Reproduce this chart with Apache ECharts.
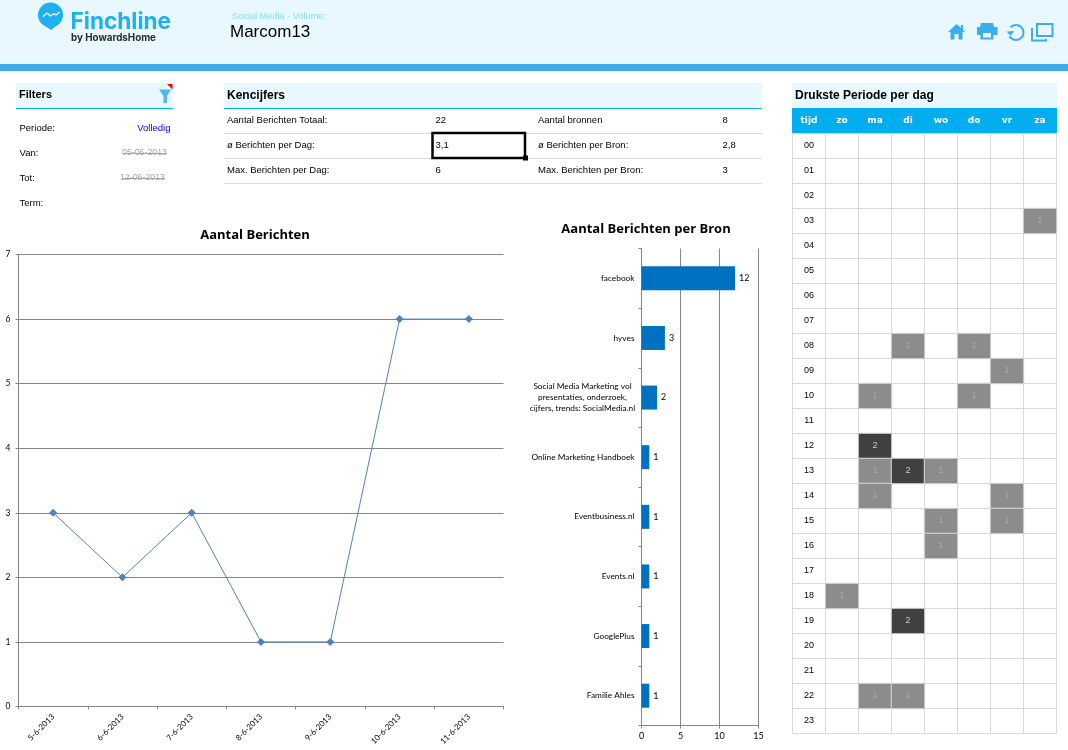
<!DOCTYPE html>
<html>
<head>
<meta charset="utf-8">
<title>Finchline - Marcom13</title>
<style>
  html, body { margin: 0; padding: 0; background: #fff; }
  #chart { width: 1068px; height: 750px; }
</style>
<script src="https://cdn.jsdelivr.net/npm/echarts@6/dist/echarts.min.js"></script>
</head>
<body>
<div id="chart"></div>
<script>
// Daily message volume
const dayLabels = ['5-6-2013', '6-6-2013', '7-6-2013', '8-6-2013', '9-6-2013', '10-6-2013', '11-6-2013'];
const dayCounts = [3, 2, 3, 1, 1, 6, 6];

// Messages per source
const sourceLabels = [
  'facebook',
  'hyves',
  'Social Media Marketing vol\npresentaties, onderzoek,\ncijfers, trends: SocialMedia.nl',
  'Online Marketing Handboek',
  'Eventbusiness.nl',
  'Events.nl',
  'GooglePlus',
  'Familie Ahles'
];
const sourceCounts = [12, 3, 2, 1, 1, 1, 1, 1];

// Busiest period: weekday / hour grid
const weekColumns = ['tijd', 'zo', 'ma', 'di', 'wo', 'do', 'vr', 'za'];
const hourRows = ['00','01','02','03','04','05','06','07','08','09','10','11','12','13','14','15','16','17','18','19','20','21','22','23'];
const busyCells = [
  ['za','03',1], ['di','08',1], ['do','08',1], ['vr','09',1], ['ma','10',1], ['do','10',1],
  ['ma','12',2], ['ma','13',1], ['di','13',2], ['wo','13',1], ['ma','14',1], ['vr','14',1],
  ['wo','15',1], ['vr','15',1], ['wo','16',1], ['zo','18',1], ['di','19',2], ['ma','22',1], ['di','22',1]
];

// Key figures table
const kpiLeft = [
  ['Aantal Berichten Totaal:', '22'],
  ['ø Berichten per Dag:', '3,1'],
  ['Max. Berichten per Dag:', '6']
];
const kpiRight = [
  ['Aantal bronnen', '8'],
  ['ø Berichten per Bron:', '2,8'],
  ['Max. Berichten per Bron:', '3']
];
const filterLabels = ['Periode:', 'Van:', 'Tot:', 'Term:'];

const SANS = '"Liberation Sans", Arial, sans-serif';
const CHART_FONT = 'Lato, "Open Sans", sans-serif';
const BAND = '#e9f7fe';
const CYAN = '#00aeef';
const BAR_BLUE = '#3aaeed';
const LOGO_BLUE = '#1cb1f0';
const GRID_GREY = '#868686';
const CELL_LINE = '#d9d9d9';

function rect(x, y, w, h, fill, z) {
  return { type: 'rect', silent: true, z: z || 0, shape: { x, y, width: w, height: h }, style: { fill } };
}
function hline(x1, x2, y, color, width) {
  return { type: 'line', silent: true, z: 1, shape: { x1, y1: y, x2, y2: y }, style: { stroke: color, lineWidth: width || 1 } };
}
function label(x, y, text, opts) {
  const o = opts || {};
  return {
    type: 'text', silent: true, z: 3, x, y,
    style: {
      text,
      fill: o.color || '#000',
      font: (o.weight || 'normal') + ' ' + (o.size || 9.5) + 'px ' + (o.family || SANS),
      align: o.align || 'left',
      verticalAlign: 'middle'
    }
  };
}
function poly(points, fill) {
  return { type: 'polygon', silent: true, z: 3, shape: { points }, style: { fill } };
}
function stroke(points, color, width) {
  return { type: 'polyline', silent: true, z: 3, shape: { points }, style: { fill: 'none', stroke: color, lineWidth: width } };
}

// Page chrome: header, logo, tool icons, panels and tables
const chrome = [
  rect(0, 0, 1068, 64, BAND),
  rect(0, 64, 1068, 7, BAR_BLUE),

  // logo pin with its small pulse line
  { type: 'circle', silent: true, z: 3, shape: { cx: 50.5, cy: 15, r: 12.5 }, style: { fill: LOGO_BLUE } },
  poly([[42, 23], [59, 23], [53.5, 28], [51, 30], [48, 28]], LOGO_BLUE),
  stroke([[43, 16.5], [47, 13], [50.5, 16], [54, 13.5], [56, 15], [59.5, 12]], '#ffffff', 1.3),
  label(70.5, 22.5, 'Finchline', { size: 22.6, weight: 'bold', color: LOGO_BLUE, family: 'Inter, ' + SANS }),
  label(71, 38, 'by HowardsHome', { size: 9.8, weight: 'bold', color: '#2b2b2b', family: 'Inter, ' + SANS }),

  label(232, 16, 'Social Media - Volume:', { size: 9.2, color: '#7fe3ea' }),
  label(230, 32, 'Marcom13', { size: 17 }),

  // home
  poly([[948, 32], [956.5, 24], [961, 28], [961, 25], [963, 25], [963, 30], [965, 32], [962.5, 32], [962.5, 39.5], [958.5, 39.5], [958.5, 34], [954.5, 34], [954.5, 39.5], [950.5, 39.5], [950.5, 32]], BAR_BLUE),
  // printer
  poly([[981, 23], [993, 23], [994, 27], [997.5, 27], [997.5, 35], [993.5, 35], [993.5, 39.5], [980.5, 39.5], [980.5, 35], [977, 35], [977, 27], [980, 27]], BAR_BLUE),
  rect(983, 33, 8, 4.5, BAND, 4),
  // refresh
  { type: 'arc', silent: true, z: 3, shape: { cx: 1016, cy: 32.5, r: 7.5, startAngle: -2.4, endAngle: 2.6, clockwise: true }, style: { stroke: BAR_BLUE, lineWidth: 2, fill: 'none' } },
  poly([[1006.5, 31.5], [1014, 31], [1010.5, 36]], BAR_BLUE),
  // window
  { type: 'rect', silent: true, z: 3, shape: { x: 1037, y: 24, width: 15.5, height: 12 }, style: { fill: 'none', stroke: BAR_BLUE, lineWidth: 2 } },
  stroke([[1033, 29], [1032, 29], [1032, 40.5], [1046, 40.5], [1046, 39]], BAR_BLUE, 2),

  // Filters panel
  rect(16, 83, 157, 25, BAND),
  hline(16, 173, 108.5, CYAN),
  label(19, 95, 'Filters', { size: 11, weight: 'bold' }),
  poly([[159, 89.5], [171, 89.5], [167, 96], [167, 103], [163.5, 103], [163.5, 96]], '#4fb8ee'),
  poly([[167, 84], [172.5, 84], [172.5, 89.5]], '#f00000'),
  label(19.5, 128, filterLabels[0]),
  label(19.5, 153, filterLabels[1]),
  label(19.5, 178, filterLabels[2]),
  label(19.5, 203, filterLabels[3]),
  label(170.5, 128, 'Volledig', { align: 'right', color: '#0000ee' }),
  label(167, 153, '05-06-2013', { align: 'right', color: '#a6a6a6', size: 8.8 }),
  label(165, 178, '12-06-2013', { align: 'right', color: '#a6a6a6', size: 8.8 }),
  hline(123, 167, 153.5, '#a6a6a6'),
  hline(123, 165, 178.5, '#a6a6a6'),

  // Key figures panel
  rect(224, 83, 538, 25, BAND),
  hline(224, 762, 108.5, CYAN),
  label(227, 96, 'Kencijfers', { size: 12, weight: 'bold' }),
  hline(224, 762, 133.5, CELL_LINE),
  hline(224, 762, 158.5, CELL_LINE),
  hline(224, 762, 183.5, CELL_LINE),
  { type: 'rect', silent: true, z: 2, shape: { x: 432.5, y: 133, width: 92.5, height: 25 }, style: { fill: 'none', stroke: '#000', lineWidth: 2.5 } },
  rect(523, 155.5, 5, 5, '#000', 2),

  // Heat grid panel
  rect(792, 83, 265, 25, BAND),
  rect(792, 108, 265, 25, CYAN),
  label(795, 96, 'Drukste Periode per dag', { size: 12, weight: 'bold' })
];
kpiLeft.forEach((row, i) => {
  chrome.push(label(227, 120.5 + i * 25, row[0]));
  chrome.push(label(435.5, 120.5 + i * 25, row[1]));
});
kpiRight.forEach((row, i) => {
  chrome.push(label(538, 120.5 + i * 25, row[0]));
  chrome.push(label(722.5, 120.5 + i * 25, row[1]));
});

// Cells shade by message count
const cellFill = { 1: '#8c8c8c', 2: '#404040' };
const cellText = { 1: '#aaaaaa', 2: '#c8c8c8' };
const heatData = busyCells.map(([day, hour, n]) => ({
  value: [weekColumns.indexOf(day), hourRows.indexOf(hour), n],
  itemStyle: { color: cellFill[n] },
  label: { color: cellText[n] }
}));

const chart = echarts.init(document.getElementById('chart'), null, { renderer: 'canvas' });
chart.setOption({
  animation: false,
  backgroundColor: '#fff',
  textStyle: { fontFamily: CHART_FONT },
  title: [
    { text: 'Aantal Berichten', left: 255, top: 229, textAlign: 'center', padding: 0,
      textStyle: { fontFamily: '"Open Sans", ' + SANS, fontWeight: 'bold', fontSize: 13, color: '#000' } },
    { text: 'Aantal Berichten per Bron', left: 646, top: 223, textAlign: 'center', padding: 0,
      textStyle: { fontFamily: '"Open Sans", ' + SANS, fontWeight: 'bold', fontSize: 13, color: '#000' } }
  ],
  graphic: { elements: chrome },
  grid: [
    { left: 18.5, top: 254.5, width: 485, height: 452, containLabel: false },
    { left: 641.5, top: 248.5, width: 117, height: 477, containLabel: false },
    { left: 792.5, top: 133.5, width: 264, height: 600, containLabel: false }
  ],
  xAxis: [
    {
      gridIndex: 0, type: 'category', data: dayLabels, boundaryGap: true,
      axisLine: { lineStyle: { color: GRID_GREY, width: 1 } },
      axisTick: { show: true, length: 3, lineStyle: { color: GRID_GREY }, interval: 0 },
      axisLabel: { interval: 0, rotate: 45, fontSize: 8, color: '#000', margin: 9, fontFamily: CHART_FONT },
      splitLine: { show: false }
    },
    {
      gridIndex: 1, type: 'value', min: 0, max: 15, interval: 5,
      axisLine: { show: true, lineStyle: { color: GRID_GREY, width: 1 } },
      axisTick: { show: true, length: 3, lineStyle: { color: GRID_GREY } },
      axisLabel: { fontSize: 9, color: '#000', margin: 6, fontFamily: CHART_FONT, hideOverlap: false, showMinLabel: true, showMaxLabel: true },
      splitLine: { show: true, lineStyle: { color: GRID_GREY, width: 1 } }
    },
    {
      gridIndex: 2, type: 'category', data: weekColumns, position: 'top', boundaryGap: true,
      axisLine: { show: false }, axisTick: { show: false },
      axisLabel: { interval: 0, fontSize: 9, fontWeight: 'bold', color: '#fff', margin: 8, fontFamily: '"DejaVu Sans", sans-serif' },
      splitLine: { show: true, interval: 0, lineStyle: { color: CELL_LINE, width: 1 } }
    }
  ],
  yAxis: [
    {
      gridIndex: 0, type: 'value', min: 0, max: 7, interval: 1,
      axisLine: { show: true, lineStyle: { color: GRID_GREY, width: 1 } },
      axisTick: { show: true, length: 3, lineStyle: { color: GRID_GREY } },
      axisLabel: { fontSize: 8.5, color: '#000', margin: 8, fontFamily: CHART_FONT },
      splitLine: { show: true, lineStyle: { color: GRID_GREY, width: 1 } }
    },
    {
      gridIndex: 1, type: 'category', data: sourceLabels, inverse: true, boundaryGap: true,
      axisLine: { show: true, lineStyle: { color: GRID_GREY, width: 1 } },
      axisTick: { show: true, length: 3, interval: 0, lineStyle: { color: GRID_GREY } },
      axisLabel: {
        interval: 0, fontSize: 8.3, color: '#000', margin: 7, fontFamily: CHART_FONT, lineHeight: 11,
        formatter: v => v.indexOf('\n') < 0 ? v : v.split('\n').map(line => '{c|' + line + '}').join('\n'),
        rich: { c: { width: 104, align: 'center', fontSize: 8.3, lineHeight: 11, fontFamily: CHART_FONT, color: '#000' } }
      },
      splitLine: { show: false }
    },
    {
      gridIndex: 2, type: 'category', data: hourRows, inverse: true, boundaryGap: true,
      axisLine: { show: false }, axisTick: { show: false },
      axisLabel: { interval: 0, inside: true, align: 'center', margin: 16.5, fontSize: 9, color: '#000', fontFamily: SANS },
      splitLine: { show: true, interval: 0, lineStyle: { color: CELL_LINE, width: 1 } }
    }
  ],
  series: [
    {
      name: 'Aantal Berichten', type: 'line', xAxisIndex: 0, yAxisIndex: 0, data: dayCounts,
      symbol: 'diamond', symbolSize: 8, showSymbol: true,
      lineStyle: { color: '#4f81bd', width: 1 },
      itemStyle: { color: '#4f81bd' },
      z: 5
    },
    {
      name: 'Aantal Berichten per Bron', type: 'bar', xAxisIndex: 1, yAxisIndex: 1, data: sourceCounts,
      barWidth: 24, itemStyle: { color: '#0070c0' },
      label: { show: true, position: 'right', distance: 4, fontSize: 9, color: '#000', fontFamily: CHART_FONT },
      z: 5
    },
    {
      name: 'Drukste Periode per dag', type: 'heatmap', xAxisIndex: 2, yAxisIndex: 2, data: heatData,
      itemStyle: { borderColor: CELL_LINE, borderWidth: 1 },
      label: { show: true, fontSize: 9, fontFamily: SANS, formatter: p => p.value[2] },
      z: 5
    }
  ]
});
</script>
</body>
</html>
